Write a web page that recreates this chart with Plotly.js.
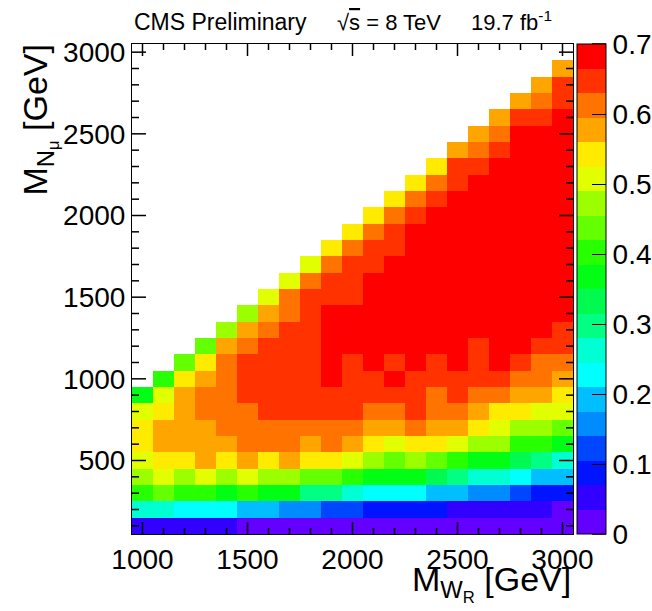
<!DOCTYPE html>
<html>
<head>
<meta charset="utf-8">
<script src="https://cdn.plot.ly/plotly-3.0.1.min.js"></script>
<style>html,body{margin:0;padding:0;background:#fff;}</style>
</head>
<body>
<div id="chart" style="width:652px;height:611px;"></div>
<script>
// M_WR bin centres (GeV) and M_N bin centres (GeV)
const mWR = [1000,1100,1200,1300,1400,1500,1600,1700,1800,1900,2000,2100,2200,2300,2400,2500,2600,2700,2800,2900,3000];
const mN  = [100,200,300,400,500,600,700,800,900,1000,1100,1200,1300,1400,1500,1600,1700,1800,1900,2000,2100,2200,2300,2400,2500,2600,2700,2800,2900,3000];

// efficiency per M_WR column, from M_N = 100 GeV upward
const eff_1000 = [0.05,0.26,0.40,0.47,0.51,0.54,0.54,0.51,0.37];
const eff_1100 = [0.05,0.26,0.44,0.51,0.54,0.58,0.58,0.54,0.51,0.40];
const eff_1200 = [0.05,0.23,0.40,0.47,0.54,0.58,0.58,0.58,0.58,0.54,0.44];
const eff_1300 = [0.05,0.23,0.40,0.51,0.58,0.58,0.58,0.61,0.61,0.58,0.54,0.44];
const eff_1400 = [0.05,0.23,0.37,0.47,0.54,0.58,0.61,0.61,0.61,0.61,0.61,0.58,0.47];
const eff_1500 = [0.02,0.19,0.40,0.51,0.58,0.61,0.61,0.61,0.65,0.65,0.65,0.61,0.58,0.47];
const eff_1600 = [0.02,0.19,0.37,0.47,0.54,0.61,0.61,0.65,0.65,0.65,0.65,0.65,0.61,0.58,0.51];
const eff_1700 = [0.02,0.16,0.37,0.47,0.58,0.61,0.61,0.65,0.65,0.65,0.65,0.65,0.65,0.61,0.61,0.51];
const eff_1800 = [0.02,0.16,0.30,0.44,0.54,0.58,0.61,0.65,0.65,0.65,0.65,0.65,0.65,0.65,0.65,0.61,0.51];
const eff_1900 = [0.02,0.12,0.30,0.44,0.54,0.61,0.61,0.65,0.65,0.68,0.68,0.68,0.68,0.68,0.65,0.65,0.61,0.54];
const eff_2000 = [0.02,0.12,0.26,0.40,0.51,0.58,0.61,0.65,0.65,0.65,0.65,0.68,0.68,0.68,0.65,0.65,0.65,0.61,0.54];
const eff_2100 = [0.02,0.09,0.23,0.37,0.47,0.54,0.58,0.61,0.65,0.65,0.68,0.68,0.68,0.68,0.68,0.68,0.65,0.65,0.61,0.54];
const eff_2200 = [0.02,0.09,0.23,0.37,0.44,0.51,0.58,0.61,0.65,0.68,0.65,0.68,0.68,0.68,0.68,0.68,0.68,0.65,0.65,0.61,0.54];
const eff_2300 = [0.02,0.09,0.23,0.37,0.47,0.54,0.61,0.65,0.65,0.65,0.68,0.68,0.68,0.68,0.68,0.68,0.68,0.68,0.68,0.65,0.61,0.54];
const eff_2400 = [0.02,0.09,0.19,0.33,0.44,0.54,0.58,0.61,0.61,0.65,0.65,0.68,0.68,0.68,0.68,0.68,0.68,0.68,0.68,0.68,0.65,0.61,0.54];
const eff_2500 = [0.02,0.05,0.19,0.30,0.40,0.51,0.58,0.61,0.65,0.65,0.68,0.68,0.68,0.68,0.68,0.68,0.68,0.68,0.68,0.68,0.68,0.65,0.65,0.58];
const eff_2600 = [0.02,0.05,0.16,0.26,0.37,0.47,0.54,0.58,0.61,0.65,0.65,0.65,0.68,0.68,0.68,0.68,0.68,0.68,0.68,0.68,0.68,0.68,0.65,0.61,0.58];
const eff_2700 = [0.02,0.05,0.16,0.26,0.37,0.47,0.51,0.54,0.61,0.65,0.68,0.68,0.68,0.68,0.68,0.68,0.68,0.68,0.68,0.68,0.68,0.68,0.68,0.65,0.61,0.58];
const eff_2800 = [0.02,0.05,0.12,0.23,0.33,0.40,0.47,0.54,0.58,0.61,0.65,0.68,0.68,0.68,0.68,0.68,0.68,0.68,0.68,0.68,0.68,0.68,0.68,0.68,0.68,0.65,0.58];
const eff_2900 = [0.02,0.05,0.09,0.19,0.30,0.40,0.47,0.51,0.58,0.61,0.61,0.65,0.68,0.68,0.68,0.68,0.68,0.68,0.68,0.68,0.68,0.68,0.68,0.68,0.68,0.65,0.61,0.58];
const eff_3000 = [0.02,0.02,0.09,0.19,0.26,0.37,0.44,0.51,0.54,0.58,0.61,0.65,0.65,0.68,0.68,0.68,0.68,0.68,0.68,0.68,0.68,0.68,0.68,0.68,0.68,0.68,0.65,0.65,0.58];

const columns = [eff_1000,eff_1100,eff_1200,eff_1300,eff_1400,eff_1500,eff_1600,eff_1700,eff_1800,eff_1900,eff_2000,
                 eff_2100,eff_2200,eff_2300,eff_2400,eff_2500,eff_2600,eff_2700,eff_2800,eff_2900,eff_3000];

// palette (20 contour levels, 0 to 0.7)
const paletteColors = ['#6400ff','#3200ff','#0014ff','#0046ff','#008cff','#00beff','#00ffff','#00ffd2','#00ff82','#00fa50',
                       '#00ff14','#28ff00','#64ff00','#9bff00','#e1ff00','#ffeb00','#ffa500','#ff7300','#ff3200','#ff0000'];
const colorTicks = [0,0.1,0.2,0.3,0.4,0.5,0.6,0.7];
const zMax = 0.7;

const z = mN.map((n, r) => columns.map(col => (r < col.length ? col[r] : null)));

const colorscale = [];
paletteColors.forEach((c, i) => {
  colorscale.push([i / paletteColors.length, c]);
  colorscale.push([(i + 1) / paletteColors.length, c]);
});

const FONT = '"Liberation Sans", Arial, Helvetica, sans-serif';
const L = 132, R = 573, T = 44, B = 534;
const W = R - L, H = B - T;
const px = v => (v - L) / W;
const py = v => (B - v) / H;
const CB_LEFT = 577, CB_THICK = 29;

// ROOT-style inside tick marks on all four sides (every 100 GeV, long every 500 GeV)
const X_RANGE = [950, 3050], Y_RANGE = [50, 3050];
const tickLine = {color: '#000', width: 1.5};
const shapes = [];
for (let v = Math.ceil(X_RANGE[0] / 100) * 100; v <= X_RANGE[1]; v += 100) {
  const len = (v % 500 === 0) ? 12 : 6;
  shapes.push({type: 'line', layer: 'above', xref: 'x', yref: 'paper', ysizemode: 'pixel', yanchor: 0, x0: v, x1: v, y0: 0, y1: len, line: tickLine});
  shapes.push({type: 'line', layer: 'above', xref: 'x', yref: 'paper', ysizemode: 'pixel', yanchor: 1, x0: v, x1: v, y0: 0, y1: -len, line: tickLine});
}
for (let v = Math.ceil(Y_RANGE[0] / 100) * 100; v <= Y_RANGE[1]; v += 100) {
  const len = (v % 500 === 0) ? 14 : 7;
  shapes.push({type: 'line', layer: 'above', xref: 'paper', yref: 'y', xsizemode: 'pixel', xanchor: 0, x0: 0, x1: len, y0: v, y1: v, line: tickLine});
  shapes.push({type: 'line', layer: 'above', xref: 'paper', yref: 'y', xsizemode: 'pixel', xanchor: 1, x0: 0, x1: -len, y0: v, y1: v, line: tickLine});
}
colorTicks.forEach(t => {
  shapes.push({type: 'line', layer: 'above', xref: 'paper', yref: 'paper', xsizemode: 'pixel', xanchor: px(CB_LEFT + CB_THICK),
               x0: 0, x1: -14, y0: t / zMax, y1: t / zMax, line: tickLine});
});

const trace = {
  type: 'heatmap',
  x: mWR, y: mN, z: z,
  zmin: 0, zmax: zMax,
  colorscale: colorscale,
  zsmooth: false,
  hoverinfo: 'skip',
  colorbar: {
    x: px(CB_LEFT), xanchor: 'left', xpad: 0, xref: 'paper',
    y: 0.5, yanchor: 'middle', len: 1, lenmode: 'fraction', ypad: 0,
    thickness: CB_THICK, thicknessmode: 'pixels',
    outlinewidth: 1, outlinecolor: '#000',
    ticks: 'inside', ticklen: 14, tickwidth: 1, tickcolor: '#000',
    tickvals: colorTicks, ticktext: colorTicks.map(String),
    tickfont: {family: FONT, size: 28, color: '#000'}
  }
};

const layout = {
  width: 652, height: 611,
  margin: {l: L, r: 652 - R, t: T, b: 611 - B, autoexpand: false},
  paper_bgcolor: '#fff', plot_bgcolor: '#fff',
  xaxis: {
    range: X_RANGE, showgrid: false, zeroline: false,
    showline: true, linecolor: '#000', linewidth: 1, mirror: true,
    ticks: '', dtick: 500, tick0: 0,
    tickfont: {family: FONT, size: 28, color: '#000'}
  },
  yaxis: {
    range: Y_RANGE, showgrid: false, zeroline: false,
    showline: true, linecolor: '#000', linewidth: 1, mirror: true,
    ticks: '', dtick: 500, tick0: 0,
    tickfont: {family: FONT, size: 28, color: '#000'}
  },
  shapes: shapes,
  annotations: [
    {text: 'CMS Preliminary', xref: 'paper', yref: 'paper', x: px(132), y: py(37), xanchor: 'left', yanchor: 'bottom',
     showarrow: false, font: {family: FONT, size: 23, color: '#000'}},
    {text: '√<span style="text-decoration:overline">s</span> = 8 TeV', xref: 'paper', yref: 'paper', x: px(335), y: py(37), xanchor: 'left', yanchor: 'bottom',
     showarrow: false, font: {family: FONT, size: 22, color: '#000'}},
    {text: '19.7 fb<sup>-1</sup>', xref: 'paper', yref: 'paper', x: px(469), y: py(37), xanchor: 'left', yanchor: 'bottom',
     showarrow: false, font: {family: FONT, size: 22, color: '#000'}},
    {text: 'M<sub>W<sub>R</sub></sub> [GeV]', xref: 'paper', yref: 'paper', x: px(573), y: py(558), xanchor: 'right', yanchor: 'top',
     showarrow: false, font: {family: FONT, size: 34, color: '#000'}},
    {text: 'M<sub>N<sub>μ</sub></sub> [GeV]', xref: 'paper', yref: 'paper', x: px(14), y: py(42), xanchor: 'left', yanchor: 'top',
     textangle: -90, showarrow: false, font: {family: FONT, size: 34, color: '#000'}}
  ]
};

Plotly.newPlot('chart', [trace], layout, {displayModeBar: false, staticPlot: true});
</script>
</body>
</html>
